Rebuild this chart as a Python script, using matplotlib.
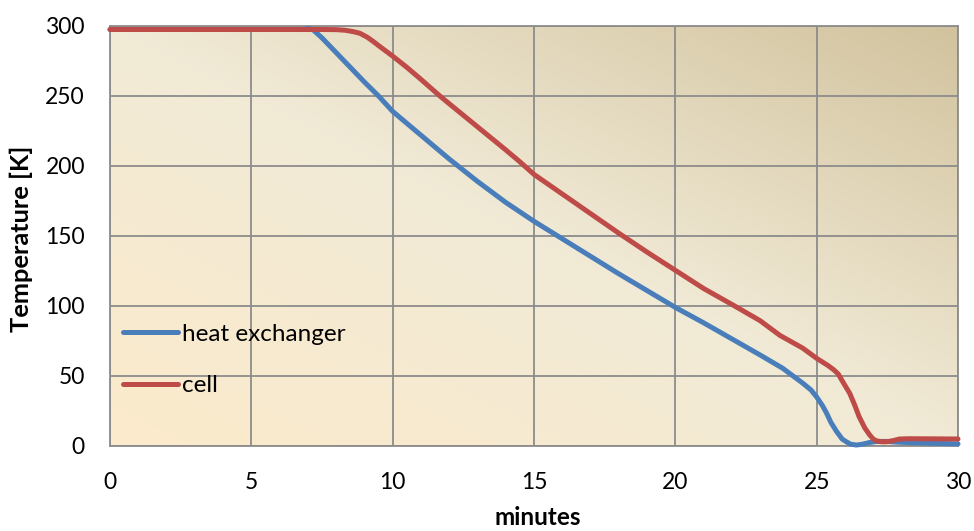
import numpy as np
import matplotlib
matplotlib.use("Agg")
import matplotlib.pyplot as plt
from matplotlib.colors import LinearSegmentedColormap

# Data
hx_minutes = [0, 5, 6.8, 7.05, 7.2, 7.5, 8, 8.5, 9, 9.5, 10, 11, 12, 13, 14, 15, 16, 17, 18, 19, 20,
              21, 22, 23, 23.8, 24.5, 24.8, 25, 25.2, 25.35, 25.5, 25.7, 25.9, 26.05, 26.2, 26.4,
              26.6, 26.87, 27.1, 27.46, 27.8, 28.3, 30]
hx_temp = [297.5, 297.5, 297.5, 298.3, 297, 291.5, 281, 270.5, 260, 250, 239, 222, 205, 189, 174, 160.5,
           148, 135.5, 123, 111, 99, 88, 76.5, 65, 55.5, 45, 40, 35, 29, 23.5, 17, 10.5, 5, 3, 1.3, 0.7,
           1.2, 2.5, 3.2, 3.3, 2.8, 2.4, 1.5]

cell_minutes = [0, 7.5, 8.0, 8.3, 8.6, 8.84, 9.1, 9.31, 9.6, 10, 10.5, 10.96, 11.67, 12, 13, 14, 14.5,
                15, 16, 17, 18, 19, 20, 21, 22.1, 23, 23.7, 24.5, 25, 25.4, 25.6, 25.76, 25.95,
                26.17, 26.35, 26.5, 26.7, 26.87, 27.0, 27.1, 27.3, 27.46, 27.7, 27.93, 28.3, 30]
cell_temp = [297.5, 297.5, 297.4, 297, 296, 294.8, 292, 289, 284.5, 278.5, 270.5, 262.6, 250, 244.5,
             228, 211.5, 203, 194, 180, 166, 152, 138.5, 125.5, 112.5, 100, 89.5, 79, 70, 62.6, 57.5,
             54.5, 51.5, 45, 37.6, 29, 21, 13, 8, 5, 3.8, 3, 3, 3.8, 5, 5.2, 5]

series_labels = ["heat exchanger", "cell"]
x_ticks = [0, 5, 10, 15, 20, 25, 30]
y_ticks = [0, 50, 100, 150, 200, 250, 300]

plt.rcParams['font.family'] = ['Lato', 'DejaVu Sans']
plt.rcParams['xtick.major.size'] = 0
plt.rcParams['ytick.major.size'] = 0
plt.rcParams['xtick.major.pad'] = 19
plt.rcParams['ytick.major.pad'] = 18
plt.rcParams['xtick.labelsize'] = 16.5
plt.rcParams['ytick.labelsize'] = 16.5

fig = plt.figure(figsize=(9.74, 5.31), dpi=100)
ax = fig.add_axes([110/974, 85/531, 848/974, 420/531])

# background gradient
n = 300
u = np.linspace(0, 1, n)[None, :]
v = np.linspace(0, 1, n)[:, None]
t = (u + v) / 2
cmap = LinearSegmentedColormap.from_list(
    "bg", [(0, "#FCEACB"), (0.5, "#F1EAD6"), (1.0, "#D2C39E")])
ax.imshow(t, cmap=cmap, origin="lower", extent=[0, 1, 0, 1], transform=ax.transAxes,
          aspect="auto", zorder=0, vmin=0, vmax=1)

ax.set_xlim(0, 30)
ax.set_ylim(0, 300)
ax.set_xticks(x_ticks)
ax.set_yticks(y_ticks)
ax.grid(True, color="#8C8C8C", linewidth=1.3, zorder=1)
ax.set_axisbelow(False)
for s in ax.spines.values():
    s.set_color("#8C8C8C")
    s.set_linewidth(1.3)

l1, = ax.plot(hx_minutes, hx_temp, color="#4A7EBB", linewidth=3.6, label=series_labels[0],
              zorder=3, solid_capstyle="round", solid_joinstyle="round")
l2, = ax.plot(cell_minutes, cell_temp, color="#BE4B48", linewidth=3.6, label=series_labels[1],
              zorder=4, solid_capstyle="round", solid_joinstyle="round")
for l in (l1, l2):
    l.set_clip_on(False)

leg = ax.legend(handles=[l1, l2], loc="center left", bbox_to_anchor=(0.0155, 0.2045),
                frameon=False, fontsize=17.5, handlelength=2.25, handletextpad=0.18,
                labelspacing=1.25, borderpad=0, borderaxespad=0)

ax.set_xlabel("minutes", fontsize=17.5, fontweight="bold")
ax.xaxis.set_label_coords(0.504, -0.143)
ax.set_ylabel("Temperature [K]", fontsize=18.3, fontweight="bold")
ax.yaxis.set_label_coords(-0.0908, 0.493)

fig.savefig("out.png", dpi=100)
